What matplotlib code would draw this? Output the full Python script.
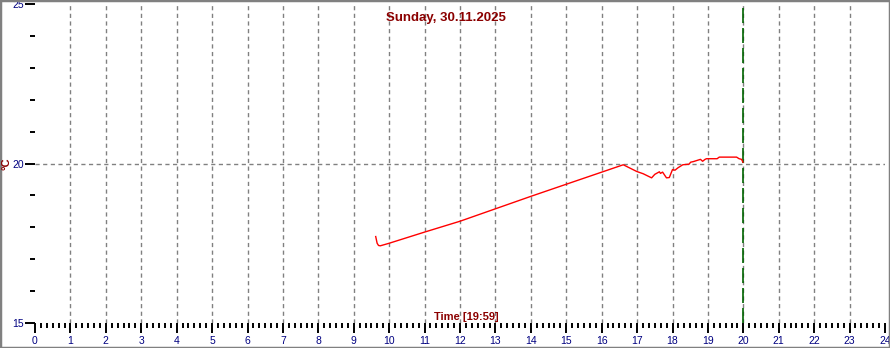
"""Daily temperature chart, Sunday 30.11.2025"""

import matplotlib
matplotlib.use('Agg')
import matplotlib.pyplot as plt
from matplotlib.patches import Rectangle
from matplotlib.ticker import MultipleLocator

plt.rcParams['font.family'] = ['Liberation Sans', 'DejaVu Sans']

TITLE = 'Sunday, 30.11.2025'
X_LABEL = 'Time [19:59]'
Y_LABEL = '°C'
NOW_HOUR = 20.0  # current time marker

# decimal hours of the day and temperature in degC
hours = [9.62, 9.66, 9.70, 9.75, 10.0, 11.0, 12.0, 13.0, 14.0, 15.0, 15.95,
         16.61, 16.99, 17.17, 17.41, 17.50, 17.63, 17.66, 17.72, 17.83, 17.91,
         18.0, 18.07, 18.16, 18.29, 18.47, 18.51, 18.59, 18.79, 18.85, 18.92,
         18.96, 19.26, 19.32, 19.81, 19.88, 19.95, 19.99]
temps = [17.71, 17.50, 17.43, 17.42, 17.50, 17.85, 18.19, 18.58, 18.97, 19.35, 19.71,
         19.96, 19.75, 19.68, 19.55, 19.66, 19.74, 19.69, 19.73, 19.55, 19.56,
         19.81, 19.79, 19.87, 19.96, 19.98, 20.04, 20.06, 20.13, 20.07, 20.13,
         20.15, 20.15, 20.20, 20.20, 20.15, 20.13, 20.04]
x_ticks = list(range(0, 25))
y_ticks = [15, 20, 25]

DARK_RED = '#8b0000'; NAVY = '#000080'; GRID = '#808080'

fig = plt.figure(figsize=(8.9, 3.48), dpi=100)
ax = fig.add_axes([35/890, 1 - 323/348, 850/890, 319/348])
fig.patches.append(Rectangle((0, 0), 1, 1, transform=fig.transFigure,
                             fill=False, edgecolor='#808080', lw=2.5))

ax.plot(hours, temps, color='red', lw=1)

for h in range(1, 24):
    ax.axvline(h, color=GRID, lw=1, ls=(0, (3, 2.5)), zorder=0)
ax.axhline(20, color=GRID, lw=1, ls=(0, (3, 2.5)), zorder=0)
ax.axvline(NOW_HOUR, color='#006400', lw=1.2, ls=(0, (9, 3)), zorder=1)

ax.set_xlim(0, 24); ax.set_ylim(15, 25)
ax.set_xticks(x_ticks); ax.set_yticks(y_ticks)
ax.xaxis.set_minor_locator(MultipleLocator(1/6))
ax.yaxis.set_minor_locator(MultipleLocator(1))
for s in ax.spines.values():
    s.set_visible(False)
ax.tick_params(axis='both', which='major', length=7, width=1.4, color='black',
               labelsize=7.5, labelcolor=NAVY, pad=2)
ax.tick_params(axis='y', which='major', pad=1)
ax.tick_params(axis='both', which='minor', length=3.5, width=1.4, color='black')

ax.text(0.484, 0.957, TITLE, transform=ax.transAxes, ha='center', va='center',
        color=DARK_RED, fontsize=9.5, fontweight='bold')
ax.text(0.507, 0.02, X_LABEL, transform=ax.transAxes, ha='center', va='center',
        color=DARK_RED, fontsize=8, fontweight='bold')
fig.text(7/890, 1 - 164/348, Y_LABEL, rotation=90, ha='center', va='center',
         color=DARK_RED, fontsize=8, fontweight='bold')

fig.savefig('out.png', dpi=100)
